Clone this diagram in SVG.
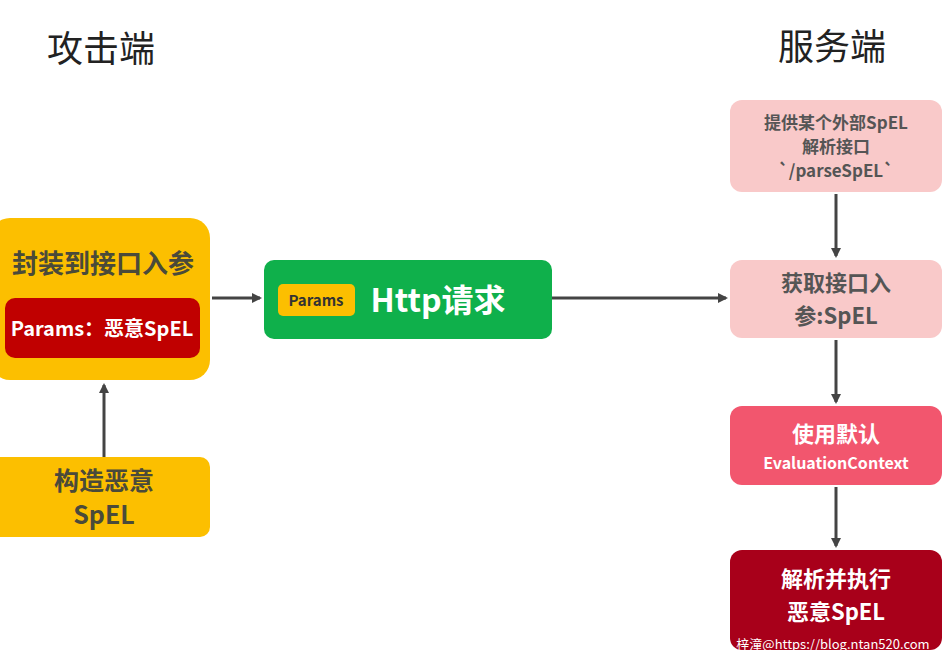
<svg xmlns="http://www.w3.org/2000/svg" width="942" height="656" viewBox="0 0 942 656">
<defs>
<style>
text{font-family:"Noto Sans CJK SC","Noto Sans",sans-serif;font-weight:bold;text-anchor:middle}
.t{font-weight:normal;font-size:36px;fill:#222}
.c{stroke:#444;stroke-width:3;fill:none;marker-end:url(#a)}
</style>
<marker id="a" markerWidth="10" markerHeight="10" refX="8" refY="5" orient="auto" markerUnits="userSpaceOnUse"><path d="M0,0L10,5L0,10z" fill="#444"/></marker>
</defs>
<rect width="942" height="656" fill="#fff"/>
<text class="t" x="101" y="62">攻击端</text>
<text class="t" x="832" y="60">服务端</text>
<g id="encap">
<rect x="-10" y="218" width="220" height="162" rx="20" fill="#fcbf00"/>
<text x="103" y="273" font-size="26" fill="#4a4a3a">封装到接口入参</text>
<rect x="5" y="298" width="195" height="60" rx="10" fill="#c00000"/>
<text x="102" y="336" font-size="20" fill="#fff">Params：恶意SpEL</text>
</g>
<g id="build">
<rect x="-10" y="457" width="220" height="80" rx="10" fill="#fcbf00"/>
<text x="104" y="490" font-size="25" fill="#4a4a3a">构造恶意</text>
<text x="104" y="524" font-size="25" fill="#4a4a3a">SpEL</text>
</g>
<g id="http">
<rect x="264" y="260" width="288" height="79" rx="10" fill="#0fb04b"/>
<rect x="278" y="284" width="77" height="32" rx="5" fill="#fcbf00"/>
<text x="316" y="306" font-size="15" fill="#333">Params</text>
<text x="438" y="312" font-size="32" fill="#fff">Http请求</text>
</g>
<g id="s1">
<rect x="730" y="100" width="212" height="92" rx="12" fill="#f9c9c9"/>
<text x="836" y="129" font-size="17" fill="#555">提供某个外部SpEL</text>
<text x="836" y="153" font-size="17" fill="#555">解析接口</text>
<text x="836" y="177" font-size="17" fill="#555">`/parseSpEL`</text>
</g>
<g id="s2">
<rect x="730" y="260" width="212" height="78" rx="12" fill="#f9c9c9"/>
<text x="836" y="291" font-size="22" fill="#555">获取接口入</text>
<text x="836" y="324" font-size="22" fill="#555">参:SpEL</text>
</g>
<g id="s3">
<rect x="730" y="406" width="212" height="79" rx="12" fill="#f2566e"/>
<text x="836" y="442" font-size="22" fill="#fff">使用默认</text>
<text x="836" y="469" font-size="16" fill="#fff">EvaluationContext</text>
</g>
<g id="s4">
<rect x="730" y="550" width="212" height="100" rx="12" fill="#a8001a"/>
<text x="836" y="587" font-size="22" fill="#fff">解析并执行</text>
<text x="836" y="620" font-size="22" fill="#fff">恶意SpEL</text>
</g>
<text x="833" y="649" font-size="13" fill="#fff" style="font-weight:normal">梓潼@https://blog.ntan520.com</text>
<g id="connectors">
<path class="c" d="M104,457V385"/>
<path class="c" d="M212,298H260"/>
<path class="c" d="M552,298H726"/>
<path class="c" d="M836,194V256"/>
<path class="c" d="M836,340V402"/>
<path class="c" d="M836,487V546"/>
</g>
</svg>
